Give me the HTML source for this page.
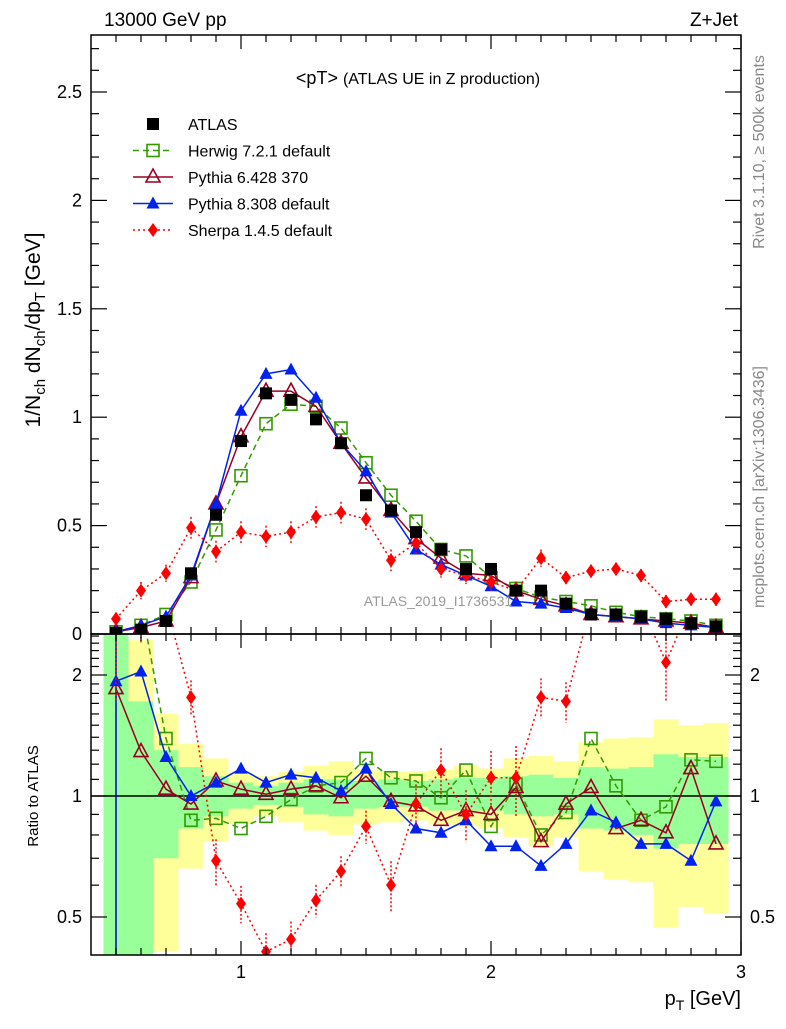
<!DOCTYPE html>
<html><head><meta charset="utf-8"><style>
body{margin:0;background:#fff}
svg{font-family:"Liberation Sans",sans-serif}
</style></head><body>
<svg id="c" width="786" height="1024" xmlns="http://www.w3.org/2000/svg">
<defs>
<clipPath id="cm"><rect x="91" y="35" width="650" height="599"/></clipPath>
<clipPath id="cr"><rect x="91" y="634" width="650" height="321"/></clipPath>
</defs>
<g id="bands" clip-path="url(#cr)"></g>
<g id="main" clip-path="url(#cm)"></g>
<g id="ratio" clip-path="url(#cr)"></g>
<g id="axes"></g>
<text x="104" y="26" font-size="19">13000 GeV pp</text>
<text x="738" y="26" font-size="19" text-anchor="end">Z+Jet</text>
<text x="418" y="84" font-size="18" text-anchor="middle">&lt;pT&gt; <tspan font-size="16">(ATLAS UE in Z production)</tspan></text>
<text x="438" y="606" font-size="14" fill="#999" text-anchor="middle">ATLAS_2019_I1736531</text>
<text transform="translate(764,152) rotate(-90)" font-size="16" fill="#888" text-anchor="middle">Rivet 3.1.10, ≥ 500k events</text>
<text transform="translate(764,487) rotate(-90)" font-size="16" fill="#888" text-anchor="middle">mcplots.cern.ch [arXiv:1306.3436]</text>
<text transform="translate(40,330) rotate(-90)" font-size="21" text-anchor="middle">1/N<tspan font-size="15" dy="5">ch</tspan><tspan dy="-5"> dN</tspan><tspan font-size="15" dy="5">ch</tspan><tspan dy="-5">/dp</tspan><tspan font-size="15" dy="5">T</tspan><tspan dy="-5"> [GeV]</tspan></text>
<text transform="translate(38,796) rotate(-90)" font-size="15" text-anchor="middle">Ratio to ATLAS</text>
<text x="741" y="1005" font-size="20" text-anchor="end">p<tspan font-size="14" dy="5">T</tspan><tspan dy="-5"> [GeV]</tspan></text>
<g id="legend"></g>
</svg>
<script>
const xs=[0.5,0.6,0.7,0.8,0.9,1.0,1.1,1.2,1.3,1.4,1.5,1.6,1.7,1.8,1.9,2.0,2.1,2.2,2.3,2.4,2.5,2.6,2.7,2.8,2.9];
const atlas=[0.005,0.02,0.06,0.28,0.55,0.89,1.11,1.08,0.99,0.88,0.64,0.57,0.47,0.39,0.30,0.30,0.20,0.20,0.14,0.09,0.09,0.08,0.07,0.05,0.035];
const herwig=[0.01,0.04,0.09,0.24,0.48,0.73,0.97,1.06,1.05,0.95,0.79,0.64,0.52,0.39,0.36,0.26,0.21,0.17,0.15,0.13,0.10,0.08,0.07,0.06,0.04];
const py6=[0.01,0.03,0.06,0.26,0.60,0.91,1.12,1.12,1.05,0.88,0.72,0.57,0.44,0.35,0.28,0.27,0.20,0.16,0.13,0.09,0.08,0.07,0.06,0.05,0.03];
const py8=[0.01,0.04,0.08,0.27,0.60,1.03,1.20,1.22,1.09,0.88,0.75,0.56,0.39,0.32,0.27,0.22,0.15,0.14,0.12,0.09,0.08,0.07,0.05,0.04,0.03];
const sherpa=[0.07,0.20,0.28,0.49,0.38,0.47,0.45,0.47,0.54,0.56,0.53,0.34,0.42,0.30,0.27,0.24,0.20,0.35,0.26,0.29,0.30,0.27,0.15,0.16,0.16];
const sherpaErr=[0.03,0.04,0.04,0.05,0.05,0.05,0.05,0.05,0.05,0.05,0.05,0.05,0.05,0.04,0.04,0.04,0.04,0.04,0.03,0.03,0.03,0.03,0.03,0.03,0.03];
const rHerwig=[3.0,3.0,1.39,0.87,0.88,0.83,0.89,0.98,1.06,1.08,1.24,1.11,1.09,0.99,1.16,0.84,1.07,0.80,0.91,1.39,1.06,0.87,0.94,1.23,1.22];
const rPy6=[1.85,1.29,1.04,0.955,1.09,1.04,1.01,1.04,1.06,0.99,1.12,0.97,0.945,0.87,0.92,0.90,1.05,0.77,0.955,1.05,0.83,0.87,0.81,1.17,0.76];
const rPy8=[1.93,2.04,1.25,1.0,1.08,1.17,1.08,1.13,1.11,1.03,1.17,0.955,0.83,0.81,0.87,0.75,0.75,0.67,0.76,0.92,0.86,0.76,0.76,0.69,0.97];
const rSherpa=[3.0,3.0,3.0,1.76,0.69,0.54,0.41,0.44,0.55,0.65,0.84,0.60,0.955,1.16,0.90,1.11,1.11,1.76,1.72,3.0,3.0,3.0,2.15,3.0,3.0];
const yelHi=[2.6,2.44,1.6,1.35,1.24,1.14,1.12,1.15,1.19,1.22,1.16,1.15,1.15,1.16,1.19,1.17,1.24,1.26,1.22,1.36,1.39,1.40,1.55,1.50,1.52];
const grnHi=[2.6,1.72,1.30,1.18,1.12,1.08,1.06,1.08,1.10,1.10,1.09,1.10,1.09,1.10,1.11,1.11,1.12,1.13,1.11,1.18,1.17,1.18,1.27,1.25,1.25];
const grnLo=[0.38,0.38,0.70,0.83,0.89,0.93,0.95,0.94,0.90,0.89,0.93,0.94,0.94,0.92,0.92,0.92,0.90,0.89,0.90,0.83,0.82,0.80,0.74,0.76,0.76];
const yelLo=[0.38,0.38,0.41,0.66,0.77,0.855,0.89,0.86,0.82,0.80,0.85,0.86,0.87,0.85,0.84,0.83,0.79,0.75,0.79,0.65,0.62,0.61,0.47,0.53,0.51];
const xTicks=[1,2,3];
const yTicks=[0,0.5,1,1.5,2,2.5];
const rTicks=[0.5,1,2];

const NS="http://www.w3.org/2000/svg";
const X=v=>241+(v-1)*250;
const Y=v=>634-216.8*v;
const R=v=>796-121*Math.log2(v);
function el(t,a,p){const e=document.createElementNS(NS,t);for(const k in a)e.setAttribute(k,a[k]);p.appendChild(e);return e;}
const gB=document.getElementById('bands'),gM=document.getElementById('main'),gR=document.getElementById('ratio'),gA=document.getElementById('axes'),gL=document.getElementById('legend');

xs.forEach((x,i)=>{
  let r=el('rect',{x:X(x-0.05),y:R(yelHi[i]),width:250*0.1,height:R(yelLo[i])-R(yelHi[i]),fill:'#ffff99'},gB);
  
  
  let g=el('rect',{x:X(x-0.05),y:R(grnHi[i]),width:250*0.1,height:R(grnLo[i])-R(grnHi[i]),fill:'#99ff99'},gB);
  
  
});
let one=el('line',{x1:91,x2:741,y1:R(1),y2:R(1),stroke:'#000','stroke-width':1.5},gR);


let vb=el('line',{x1:X(0.5),x2:X(0.5),y1:634,y2:955,stroke:'#0000cc','stroke-width':1.5},gR);



function marker(g,t,cx,cy,col){
  if(t==='sq')return el('rect',{x:cx-6,y:cy-6,width:12,height:12,fill:'none',stroke:col,'stroke-width':1.6},g);
  if(t==='fsq')return el('rect',{x:cx-6,y:cy-6,width:12,height:12,fill:col},g);
  if(t==='otri')return el('path',{d:`M${cx},${cy-8}L${cx+7},${cy+5}L${cx-7},${cy+5}Z`,fill:'none',stroke:col,'stroke-width':1.6},g);
  if(t==='ftri')return el('path',{d:`M${cx},${cy-7}L${cx+6.5},${cy+5}L${cx-6.5},${cy+5}Z`,fill:col},g);
  if(t==='dia')return el('path',{d:`M${cx},${cy-7}L${cx+5},${cy}L${cx},${cy+7}L${cx-5},${cy}Z`,fill:col},g);
}
const series=[
 {name:'herwig',m:herwig,r:rHerwig,col:'#339900',dash:'6,4',mk:'sq'},
 {name:'pythia6',m:py6,r:rPy6,col:'#990022',dash:'',mk:'otri'},
 {name:'pythia8',m:py8,r:rPy8,col:'#0022ee',dash:'',mk:'ftri'},
 {name:'sherpa',m:sherpa,r:rSherpa,col:'#ff0000',dash:'2,3',mk:'dia'}
];
series.forEach(s=>{
  [[gM,s.m,Y],[gR,s.r,R]].forEach(([g,arr,F],k)=>{
    const d=arr.map((v,i)=>(i?'L':'M')+X(xs[i])+','+F(v)).join('');
    const p=el('path',{d:d,fill:'none',stroke:s.col,'stroke-width':1.5,'stroke-dasharray':s.dash},g);
    
    
    if(s.name==='sherpa'){
      arr.forEach((v,i)=>{
        const e=k?v*sherpaErr[i]/Math.max(sherpa[i],0.05):sherpaErr[i];
        const b=el('line',{x1:X(xs[i]),x2:X(xs[i]),y1:F(v+e),y2:F(Math.max(v-e,0.01)),stroke:s.col,'stroke-width':1.5,'stroke-dasharray':'2,2'},g);
        
        
      });
    }
    arr.forEach((v,i)=>{
      const m=marker(g,s.mk,X(xs[i]),F(v),s.col);
      
      
    });
  });
});
atlas.forEach((v,i)=>{
  const m=marker(gM,'fsq',X(xs[i]),Y(v),'#000');
  
  
});

[[35,634],[634,955]].forEach(([t,b],k)=>{
  const f=el('rect',{x:91,y:t,width:650,height:b-t,fill:'none',stroke:'#000','stroke-width':1.5},gA);
  
  
});
function tick(x1,y1,x2,y2){const l=el('line',{x1,y1,x2,y2,stroke:'#000','stroke-width':1.2},gA);}
for(let v=0.5;v<=3.001;v+=0.1){
  const maj=xTicks.some(t=>Math.abs(t-v)<1e-6),L=maj?14:7,x=X(v);
  [[35,1],[634,-1],[634,1],[955,-1]].forEach(([y,s])=>tick(x,y,x,y+s*L));
}
xTicks.forEach(v=>{const t=el('text',{x:X(v),y:978,'font-size':18,'text-anchor':'middle'},gA);t.textContent=v;
});
for(let v=0;v<=2.75;v+=0.1){
  const maj=yTicks.some(t=>Math.abs(t-v)<1e-6),L=maj?16:8,y=Y(v);
  tick(91,y,91+L,y);tick(741,y,741-L,y);
}
yTicks.forEach(v=>{const t=el('text',{x:82,y:Y(v)+6,'font-size':18,'text-anchor':'end'},gA);t.textContent=v;
});
[0.4,0.5,0.6,0.7,0.8,0.9,1,1.1,1.2,1.3,1.4,1.5,1.6,1.7,1.8,1.9,2,2.1,2.2,2.3,2.4,2.5].forEach(v=>{
  const maj=rTicks.some(t=>Math.abs(t-v)<1e-6),L=maj?16:8,y=R(v);
  if(y<634||y>955)return;
  tick(91,y,91+L,y);tick(741,y,741-L,y);
});
rTicks.forEach(v=>{
  [[82,'end'],[750,'start']].forEach(([x,a])=>{
  const t=el('text',{x:x,y:R(v)+6,'font-size':18,'text-anchor':a},gA);t.textContent=v;
  });
});

const leg=[['ATLAS','#000','','fsq'],['Herwig 7.2.1 default','#339900','6,4','sq'],['Pythia 6.428 370','#990022','','otri'],['Pythia 8.308 default','#0022ee','','ftri'],['Sherpa 1.4.5 default','#ff0000','2,3','dia']];
leg.forEach((l,i)=>{
  const y=124+i*26.5;
  const g=el('g',{},gL);
  
  
  if(i>0)el('line',{x1:133,x2:173,y1:y,y2:y,stroke:l[1],'stroke-width':1.5,'stroke-dasharray':l[2]},g);
  marker(g,l[3],153,y,l[1]);
  const t=el('text',{x:188,y:y+6,'font-size':16},g);t.textContent=l[0];
});
</script>
</body></html>
